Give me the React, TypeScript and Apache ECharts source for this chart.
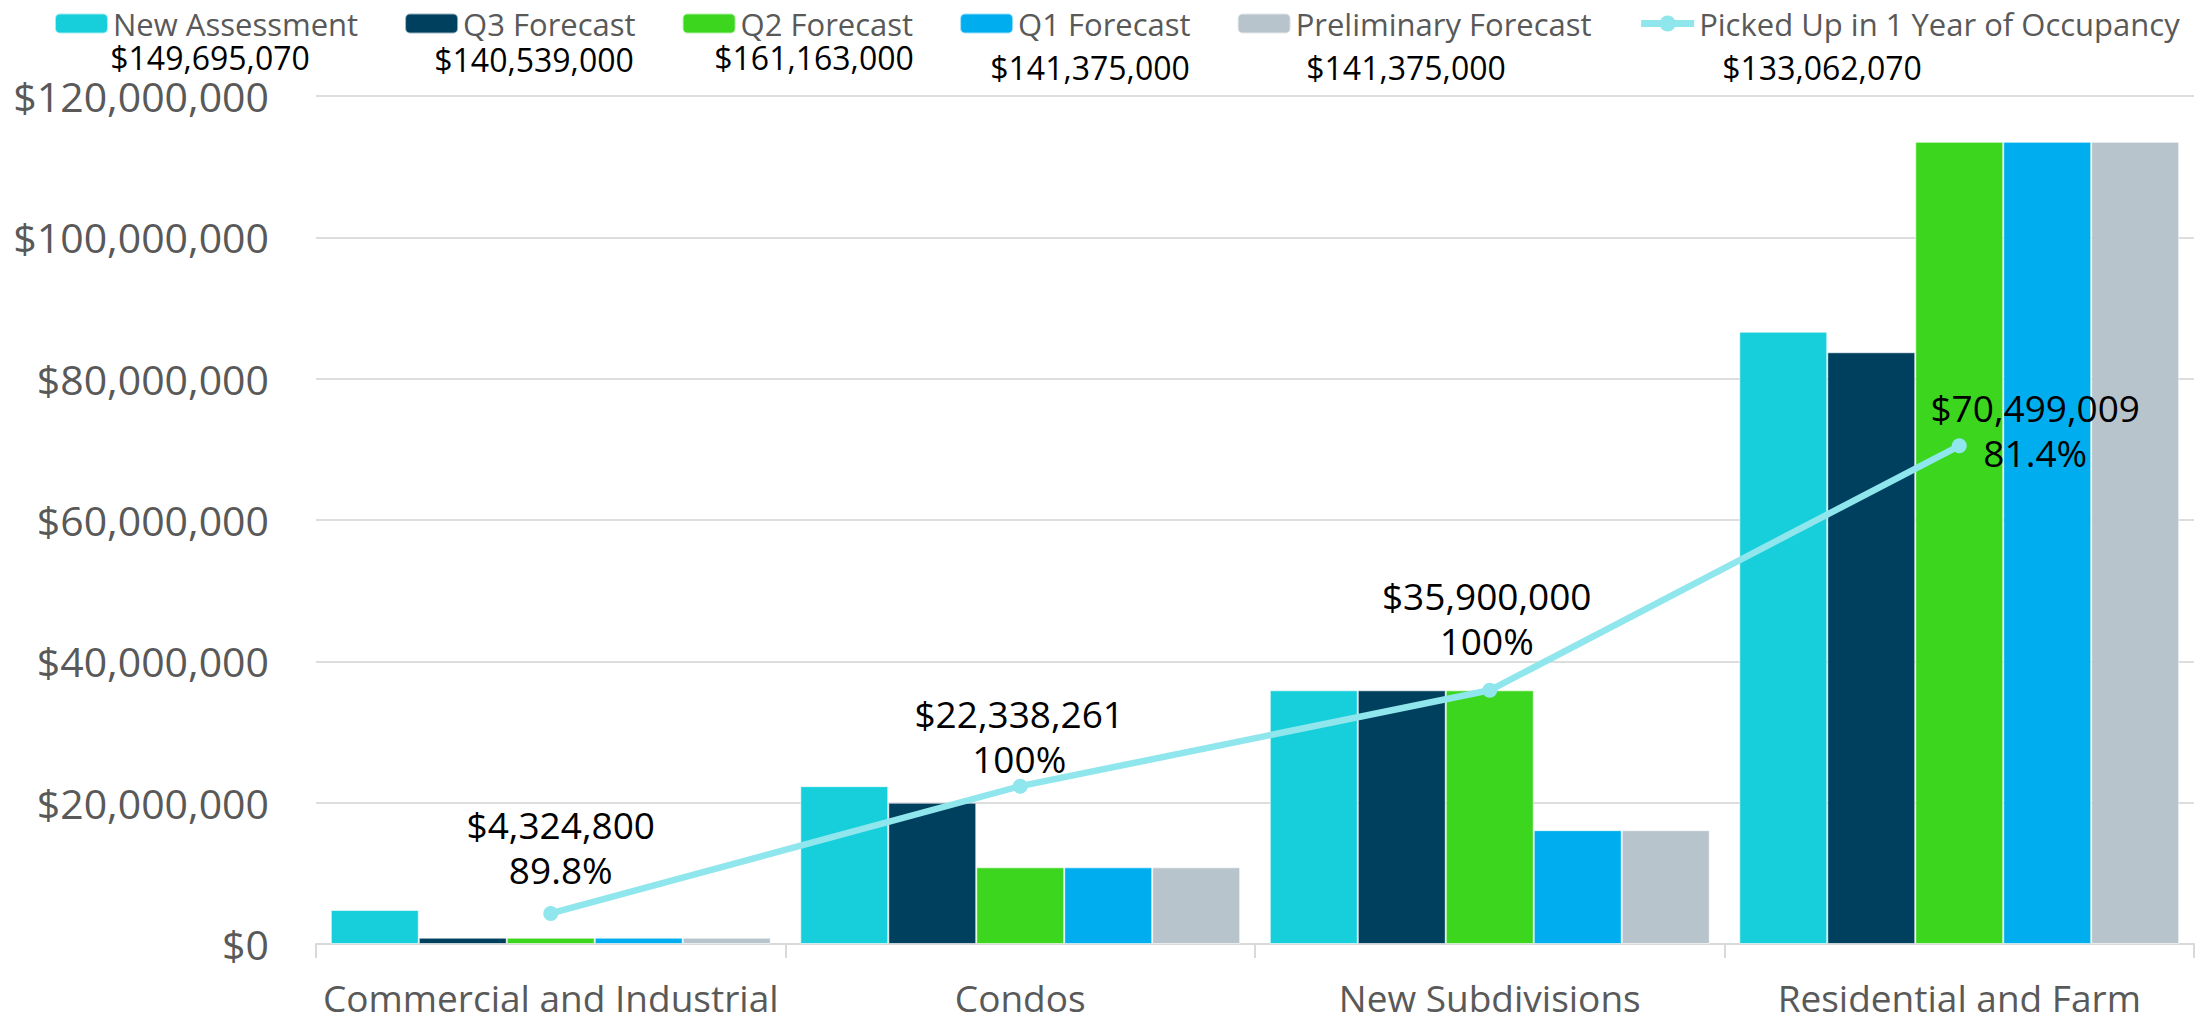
import React, { useEffect, useRef } from "react";
import * as echarts from "echarts";

const categories = ["Commercial and Industrial", "Condos", "New Subdivisions", "Residential and Farm"];
const newAssessment = [4816036, 22338261, 35900000, 86640773];
const q3Forecast = [900000, 20000000, 35900000, 83739000];
const q2Forecast = [900000, 10850000, 35900000, 113513000];
const q1Forecast = [900000, 10850000, 16112000, 113513000];
const preliminaryForecast = [900000, 10850000, 16112000, 113513000];
const pickedUp = [4324800, 22338261, 35900000, 70499009];
const yTicks = [0, 20000000, 40000000, 60000000, 80000000, 100000000, 120000000];

const seriesNames = [
  "New Assessment",
  "Q3 Forecast",
  "Q2 Forecast",
  "Q1 Forecast",
  "Preliminary Forecast",
  "Picked Up in 1 Year of Occupancy",
];
const colors = ["#17CFDA", "#00405F", "#3CD61F", "#00AEEF", "#B8C4CC", "#8FE6EC"];

// label placement offsets for line labels (layout only)
const labelOffsets = [
  [10, -66],
  [-1, -50],
  [-3, -72],
  [76, -16],
];
// positions of the legend total texts (layout only)
const totalPositions = [
  [210, 57],
  [534, 59],
  [814, 57],
  [1090, 67],
  [1406, 67],
  [1822, 67],
];

const FONT = "'Open Sans', sans-serif";
const money = (v: number) => "$" + Math.round(v).toLocaleString("en-US");
const pct = (v: number) => {
  const s = (v * 100).toFixed(1);
  return (s.endsWith(".0") ? s.slice(0, -2) : s) + "%";
};
const sum = (a: number[]) => a.reduce((x, y) => x + y, 0);

export default function App() {
  const ref = useRef<HTMLDivElement>(null);
  useEffect(() => {
    document.body.style.margin = "0";
    const chart = echarts.init(ref.current!, undefined, { renderer: "svg" });
    const barData = [newAssessment, q3Forecast, q2Forecast, q1Forecast, preliminaryForecast];
    const totals = [...barData.map(sum), sum(pickedUp)];
    const barSeries = barData.map((d, i) => ({
      name: seriesNames[i],
      type: "bar",
      data: d,
      barGap: "0%",
      barCategoryGap: "6.3%",
      itemStyle: { color: colors[i], borderColor: "rgba(255,255,255,0.6)", borderWidth: 1 },
    }));
    const lineSeries = {
      name: seriesNames[5],
      type: "line",
      z: 5,
      data: pickedUp.map((v, i) => ({
        value: v,
        label: { offset: labelOffsets[i] },
      })),
      symbol: "circle",
      symbolSize: 15,
      lineStyle: { color: colors[5], width: 6.5 },
      itemStyle: { color: colors[5] },
      label: {
        show: true,
        position: "inside",
        fontFamily: FONT,
        fontSize: 37,
        lineHeight: 45,
        color: "#000",
        align: "center",
        formatter: (p: any) => money(p.value) + "\n" + pct(p.value / newAssessment[p.dataIndex]),
      },
    };
    chart.setOption({
      animation: false,
      color: colors,
      textStyle: { fontFamily: FONT },
      legend: {
        top: 3,
        left: 49,
        width: 2200,
        itemWidth: 53,
        itemHeight: 20,
        itemGap: 46,
        data: seriesNames.map((n, i) =>
          i === 5 ? { name: n, lineStyle: { width: 7, color: colors[5] } } : { name: n }
        ),
        textStyle: { fontFamily: FONT, fontSize: 31, lineHeight: 28, color: "#595959" },
      },
      grid: { left: 316, right: 9, top: 96, bottom: 74, containLabel: false },
      xAxis: {
        type: "category",
        data: categories,
        axisLine: { lineStyle: { color: "#D9D9D9", width: 2 } },
        axisTick: { show: true, length: 14, lineStyle: { color: "#D9D9D9", width: 2 } },
        axisLabel: {
          interval: 0,
          fontFamily: FONT,
          fontSize: 37,
          lineHeight: 36,
          color: "#595959",
          margin: 35,
        },
      },
      yAxis: {
        type: "value",
        min: yTicks[0],
        max: yTicks[yTicks.length - 1],
        interval: yTicks[1] - yTicks[0],
        axisLine: { show: false },
        axisTick: { show: false },
        splitLine: { lineStyle: { color: "#DDDDDD", width: 2 } },
        axisLabel: {
          fontFamily: FONT,
          fontSize: 41,
          color: "#595959",
          margin: 47,
          formatter: (v: number) => money(v),
        },
      },
      series: [...barSeries, lineSeries],
      graphic: totals.map((t, i) => ({
        type: "text",
        x: totalPositions[i][0],
        y: totalPositions[i][1],
        style: {
          text: money(t),
          fontFamily: FONT,
          fontSize: 32,
          lineHeight: 28,
          fill: "#000",
          align: "center",
          verticalAlign: "middle",
        },
      })),
    });
    return () => chart.dispose();
  }, []);
  return <div ref={ref} style={{ width: 2203, height: 1018 }} />;
}
